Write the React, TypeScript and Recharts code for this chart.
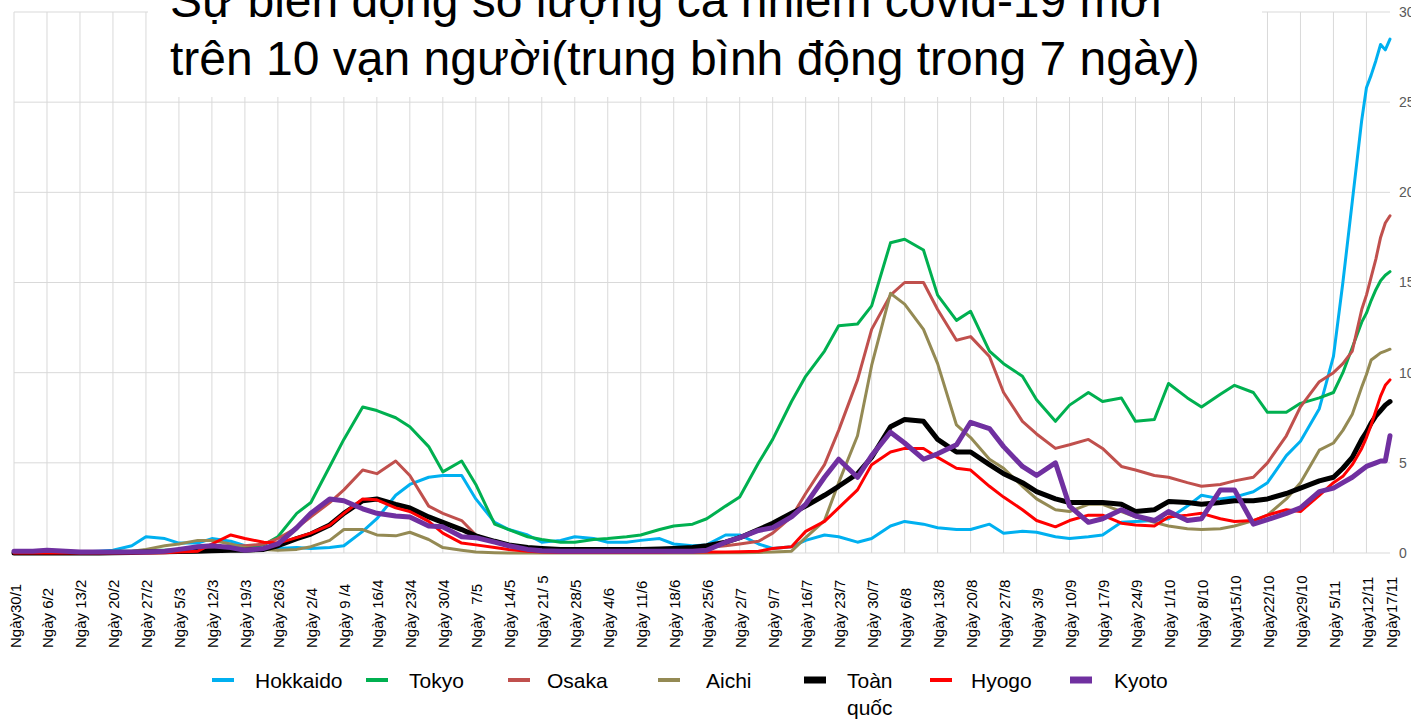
import React from 'react';
import { LineChart, Line, XAxis, YAxis, CartesianGrid } from 'recharts';

// Day index counted from 30/1 (day 0) to 17/11 (day 292)
const days = [
  0, 4, 7, 11, 14, 18, 21, 25, 28, 32,
  35, 39, 42, 46, 49, 53, 56, 60, 63, 67,
  70, 74, 77, 81, 84, 88, 91, 95, 98, 102,
  105, 109, 112, 116, 119, 123, 126, 130, 133, 137,
  140, 144, 147, 151, 154, 158, 161, 165, 168, 172,
  175, 179, 182, 186, 189, 193, 196, 200, 203, 207,
  210, 214, 217, 221, 224, 228, 231, 235, 238, 242,
  245, 249, 252, 256, 259, 263, 266, 270, 273, 277,
  280, 282, 284, 286, 287, 288, 289, 290, 291, 292,
];

const hokkaido = [
  0, 0, 0, 0, 0.05, 0.1, 0.15, 0.4, 0.9, 0.8,
  0.55, 0.55, 0.8, 0.65, 0.4, 0.25, 0.25, 0.3, 0.25, 0.3,
  0.4, 1.2, 1.9, 3.2, 3.8, 4.2, 4.3, 4.3, 3.0, 1.7,
  1.3, 1.0, 0.6, 0.7, 0.9, 0.8, 0.6, 0.6, 0.7, 0.8,
  0.5, 0.4, 0.45, 1.0, 1.0, 0.5, 0.25, 0.35, 0.7, 1.0,
  0.9, 0.6, 0.8, 1.5, 1.75, 1.6, 1.4, 1.3, 1.3, 1.6,
  1.1, 1.2, 1.15, 0.9, 0.8, 0.9, 1.0, 1.7, 1.75, 1.8,
  1.9, 2.6, 3.2, 3.0, 3.1, 3.4, 3.9, 5.4, 6.2, 8.0,
  10.9, 15.0, 19.5, 24.0, 25.8, 26.5, 27.3, 28.2, 27.9, 28.5,
];

const tokyo = [
  0, 0, 0.02, 0.03, 0.05, 0.05, 0.1, 0.1, 0.15, 0.15,
  0.2, 0.2, 0.25, 0.3, 0.3, 0.45, 0.9, 2.2, 2.8, 4.8,
  6.3, 8.1, 7.9, 7.5, 7.0, 5.9, 4.5, 5.1, 3.8, 1.6,
  1.3, 0.9, 0.75, 0.6, 0.6, 0.75, 0.8, 0.9, 1.0, 1.3,
  1.5, 1.6, 1.9, 2.6, 3.1, 5.0, 6.3, 8.4, 9.8, 11.2,
  12.6, 12.7, 13.7, 17.2, 17.4, 16.8, 14.3, 12.9, 13.4, 11.2,
  10.5, 9.8, 8.5, 7.3, 8.2, 8.9, 8.4, 8.6, 7.3, 7.4,
  9.4, 8.6, 8.1, 8.8, 9.3, 8.9, 7.8, 7.8, 8.3, 8.6,
  8.9, 10.0, 11.4, 12.8, 13.3, 14.0, 14.6, 15.1, 15.4, 15.6,
];

const osaka = [
  0, 0, 0, 0, 0, 0, 0.02, 0.05, 0.05, 0.08,
  0.1, 0.2, 0.3, 0.4, 0.4, 0.5, 0.8, 1.4, 2.0, 2.8,
  3.5, 4.6, 4.4, 5.1, 4.3, 2.6, 2.2, 1.8, 1.0, 0.6,
  0.45, 0.3, 0.2, 0.15, 0.1, 0.1, 0.1, 0.1, 0.15, 0.15,
  0.2, 0.25, 0.3, 0.4, 0.5, 0.65, 1.1, 2.0, 3.3, 4.9,
  6.8, 9.6, 12.4, 14.3, 15.0, 15.0, 13.5, 11.8, 12.0, 10.9,
  8.9, 7.3, 6.6, 5.8, 6.0, 6.3, 5.8, 4.8, 4.6, 4.3,
  4.2, 3.9, 3.7, 3.8, 4.0, 4.2, 5.0, 6.5, 8.1, 9.5,
  10.0, 10.5, 11.2, 13.5, 14.3, 15.3, 16.3, 17.5, 18.3, 18.7,
];

const aichi = [
  0, 0, 0, 0, 0, 0, 0.05, 0.1, 0.2, 0.4,
  0.5, 0.7, 0.7, 0.5, 0.3, 0.2, 0.15, 0.2, 0.35, 0.7,
  1.3, 1.3, 1.0, 0.95, 1.15, 0.75, 0.3, 0.15, 0.05, 0.02,
  0, 0, 0, 0, 0, 0, 0, 0, 0, 0,
  0, 0, 0, 0.02, 0.02, 0.03, 0.05, 0.1, 0.85, 1.8,
  3.9, 6.5, 10.4, 14.4, 13.8, 12.4, 10.5, 7.1, 6.4, 5.2,
  4.7, 3.7, 3.0, 2.4, 2.3, 2.7, 2.7, 2.3, 2.0, 1.7,
  1.5, 1.35, 1.3, 1.35, 1.5, 1.8, 2.1, 3.0, 3.9, 5.7,
  6.1, 6.8, 7.7, 9.2, 9.9, 10.7, 10.9, 11.1, 11.2, 11.3,
];

const toanQuoc = [
  0, 0, 0, 0, 0, 0, 0.02, 0.03, 0.05, 0.07,
  0.08, 0.1, 0.12, 0.15, 0.15, 0.2, 0.4, 0.8, 1.05, 1.55,
  2.2, 2.9, 3.0, 2.7, 2.5, 2.0, 1.7, 1.3, 0.95, 0.65,
  0.45, 0.3, 0.25, 0.2, 0.2, 0.2, 0.2, 0.2, 0.2, 0.22,
  0.25, 0.3, 0.4, 0.6, 0.85, 1.3, 1.65, 2.2, 2.6, 3.2,
  3.7, 4.4, 5.3, 7.0, 7.4, 7.3, 6.3, 5.6, 5.6, 4.9,
  4.4, 3.9, 3.4, 3.0, 2.8, 2.8, 2.8, 2.7, 2.3, 2.4,
  2.85, 2.8, 2.7, 2.8, 2.9, 2.9, 3.0, 3.3, 3.6, 4.0,
  4.2, 4.7, 5.3, 6.3, 6.7, 7.2, 7.6, 7.9, 8.2, 8.4,
];

const hyogo = [
  0, 0, 0, 0, 0, 0, 0, 0, 0, 0.02,
  0.05, 0.1, 0.5, 1.0, 0.8, 0.6, 0.55, 0.85, 1.1, 1.55,
  2.2, 3.0, 2.95, 2.5, 2.3, 1.75, 1.1, 0.55, 0.45, 0.3,
  0.2, 0.1, 0.05, 0.03, 0.03, 0.03, 0.03, 0.03, 0.03, 0.03,
  0.05, 0.05, 0.05, 0.05, 0.07, 0.1, 0.25, 0.35, 1.2, 1.75,
  2.5, 3.5, 4.9, 5.6, 5.8, 5.8, 5.3, 4.7, 4.6, 3.7,
  3.1, 2.4, 1.8, 1.45, 1.8, 2.1, 2.1, 1.65, 1.55, 1.5,
  2.0, 2.1, 2.2, 1.9, 1.75, 1.8, 2.1, 2.4, 2.3, 3.2,
  3.9, 4.25, 4.9, 5.8, 6.4, 7.1, 7.9, 8.7, 9.3, 9.6,
];

const kyoto = [
  0.1, 0.1, 0.15, 0.1, 0.05, 0.05, 0.05, 0.05, 0.05, 0.1,
  0.2, 0.35, 0.4, 0.3, 0.15, 0.25, 0.5, 1.4, 2.2, 3.0,
  2.9, 2.45, 2.2, 2.05, 2.0, 1.5, 1.45, 0.9, 0.85, 0.6,
  0.4, 0.2, 0.12, 0.1, 0.1, 0.1, 0.1, 0.1, 0.1, 0.1,
  0.1, 0.1, 0.15, 0.6, 0.85, 1.25, 1.4, 2.0, 2.7, 4.2,
  5.2, 4.2, 5.4, 6.7, 6.1, 5.2, 5.5, 6.0, 7.25, 6.9,
  5.9, 4.8, 4.3, 5.0, 2.6, 1.7, 1.9, 2.4, 2.05, 1.8,
  2.3, 1.8, 1.9, 3.5, 3.5, 1.6, 1.85, 2.2, 2.5, 3.4,
  3.6, 3.9, 4.2, 4.6, 4.8, 4.9, 5.0, 5.1, 5.1, 6.5,
];

const tickDays = [
  0, 7, 14, 21, 28, 35, 42, 49, 56, 63, 70, 77, 84, 91, 98, 105, 112, 119, 126, 133, 140, 147,
  154, 161, 168, 175, 182, 189, 196, 203, 210, 217, 224, 231, 238, 245, 252, 259, 266, 273, 280, 287, 292,
];

const tickLabels = [
  'Ngày30/1', 'Ngày 6/2', 'Ngày 13/2', 'Ngày 20/2', 'Ngày 27/2', 'Ngày 5/3', 'Ngày 12/3', 'Ngày 19/3',
  'Ngày 26/3', 'Ngày 2/4', 'Ngày 9 /4', 'Ngày 16/4', 'Ngày 23/4', 'Ngày 30/4', 'Ngày  7/5', 'Ngày 14/5',
  'Ngày 21/ 5', 'Ngày 28/5', 'Ngày 4/6', 'Ngày 11/6', 'Ngày 18/6', 'Ngày 25/6', 'Ngày 2/7', 'Ngày 9/7',
  'Ngày 16/7', 'Ngày 23/7', 'Ngày 30/7', 'Ngày 6/8', 'Ngày 13/8', 'Ngày 20/8', 'Ngày 27/8', 'Ngày 3/9',
  'Ngày 10/9', 'Ngày 17/9', 'Ngày 24/9', 'Ngày 1/10', 'Ngày 8/10', 'Ngày15/10', 'Ngày22/10', 'Ngày29/10',
  'Ngày 5/11', 'Ngày12/11', 'Ngày17/11',
];

const yTicks = [0, 5, 10, 15, 20, 25, 30];

const titleLines = [
  'Sự biến động số lượng ca nhiễm covid-19 mới',
  'trên 10 vạn người(trung bình động trong 7 ngày)',
];

const seriesKeys = ['hokkaido', 'tokyo', 'osaka', 'aichi', 'toanQuoc', 'hyogo', 'kyoto'];
const seriesNames = ['Hokkaido', 'Tokyo', 'Osaka', 'Aichi', 'Toàn quốc', 'Hyogo', 'Kyoto'];
const seriesValues = [hokkaido, tokyo, osaka, aichi, toanQuoc, hyogo, kyoto];

const seriesStyle = [
  { color: '#00B0F0', width: 3, legendX: 212, textX: 255 },
  { color: '#00B050', width: 3, legendX: 366, textX: 409 },
  { color: '#C0504D', width: 3, legendX: 508, textX: 547 },
  { color: '#948A54', width: 3, legendX: 658, textX: 706 },
  { color: '#000000', width: 5, legendX: 804, textX: 847 },
  { color: '#FF0000', width: 3, legendX: 930, textX: 971 },
  { color: '#7030A0', width: 5, legendX: 1070, textX: 1114 },
];

const DAY_MAX = 292;

const data = days.map((d, i) => {
  const row: Record<string, number> = { day: d };
  seriesKeys.forEach((k, s) => {
    row[k] = seriesValues[s][i];
  });
  return row;
});

const FONT = '"Liberation Sans", Arial, sans-serif';

const XTick = (props: any) => {
  const { x, payload } = props;
  const idx = tickDays.indexOf(payload.value);
  const label = idx >= 0 ? tickLabels[idx] : '';
  const cx = x + 1;
  const by = 648;
  return (
    <text
      x={cx}
      y={by}
      transform={`rotate(-90 ${cx} ${by})`}
      textAnchor="start"
      dominantBaseline="central"
      fontSize={15}
      fill="#000"
      fontFamily={FONT}
      style={{ whiteSpace: 'pre' }}
    >
      {label}
    </text>
  );
};

const verticalGen = (p: any) => {
  const off = (p && p.offset) || {};
  const left = typeof off.left === 'number' ? off.left : 14;
  const w = typeof off.width === 'number' ? off.width : 1376;
  // gridlines at every weekly tick except the final (17/11) one
  return tickDays.slice(0, -1).map((d) => left + (d / DAY_MAX) * w);
};

export default function App() {
  return (
    <div
      style={{
        position: 'fixed',
        left: 0,
        top: 0,
        width: 1411,
        height: 720,
        overflow: 'hidden',
        background: '#fff',
        fontFamily: FONT,
      }}
    >
      <LineChart
        width={1411}
        height={720}
        data={data}
        margin={{ top: 12, right: 0, bottom: 0, left: 14 }}
      >
        <CartesianGrid
          stroke="#d9d9d9"
          strokeWidth={1}
          verticalCoordinatesGenerator={verticalGen}
        />
        <XAxis
          dataKey="day"
          type="number"
          domain={[0, DAY_MAX]}
          ticks={tickDays}
          interval={0}
          height={167}
          axisLine={false}
          tickLine={false}
          tick={<XTick />}
        />
        <YAxis
          orientation="right"
          domain={[0, 30]}
          ticks={yTicks}
          width={21}
          axisLine={false}
          tickLine={false}
          tickSize={0}
          tickMargin={9}
          tick={{ fill: '#595959', fontSize: 14, fontFamily: FONT, textAnchor: 'start' }}
        />
        {seriesKeys.map((k, s) => (
          <Line
            key={k}
            dataKey={k}
            name={seriesNames[s]}
            type="linear"
            stroke={seriesStyle[s].color}
            strokeWidth={seriesStyle[s].width}
            strokeLinejoin="round"
            strokeLinecap="round"
            dot={false}
            activeDot={false}
            isAnimationActive={false}
          />
        ))}
      </LineChart>
      <svg
        width={1411}
        height={720}
        style={{ position: 'absolute', left: 0, top: 0, pointerEvents: 'none' }}
      >
        <rect x={148} y={0} width={1114} height={97} fill="#fff" />
        <text x={170} y={17} fontSize={48} fill="#000" fontFamily={FONT}>
          {titleLines[0]}
        </text>
        <text x={170} y={75} fontSize={48} fill="#000" fontFamily={FONT}>
          {titleLines[1]}
        </text>
        {seriesNames.map((n, s) => {
          const st = seriesStyle[s];
          const parts = n === 'Toàn quốc' ? ['Toàn', 'quốc'] : [n];
          return (
            <g key={n}>
              <line
                x1={st.legendX}
                x2={st.legendX + 22}
                y1={680}
                y2={680}
                stroke={st.color}
                strokeWidth={st.width === 5 ? 7 : 4}
              />
              {parts.map((p, j) => (
                <text
                  key={p}
                  x={st.textX}
                  y={688 + j * 27}
                  fontSize={21}
                  fill="#000"
                  fontFamily={FONT}
                >
                  {p}
                </text>
              ))}
            </g>
          );
        })}
      </svg>
    </div>
  );
}
